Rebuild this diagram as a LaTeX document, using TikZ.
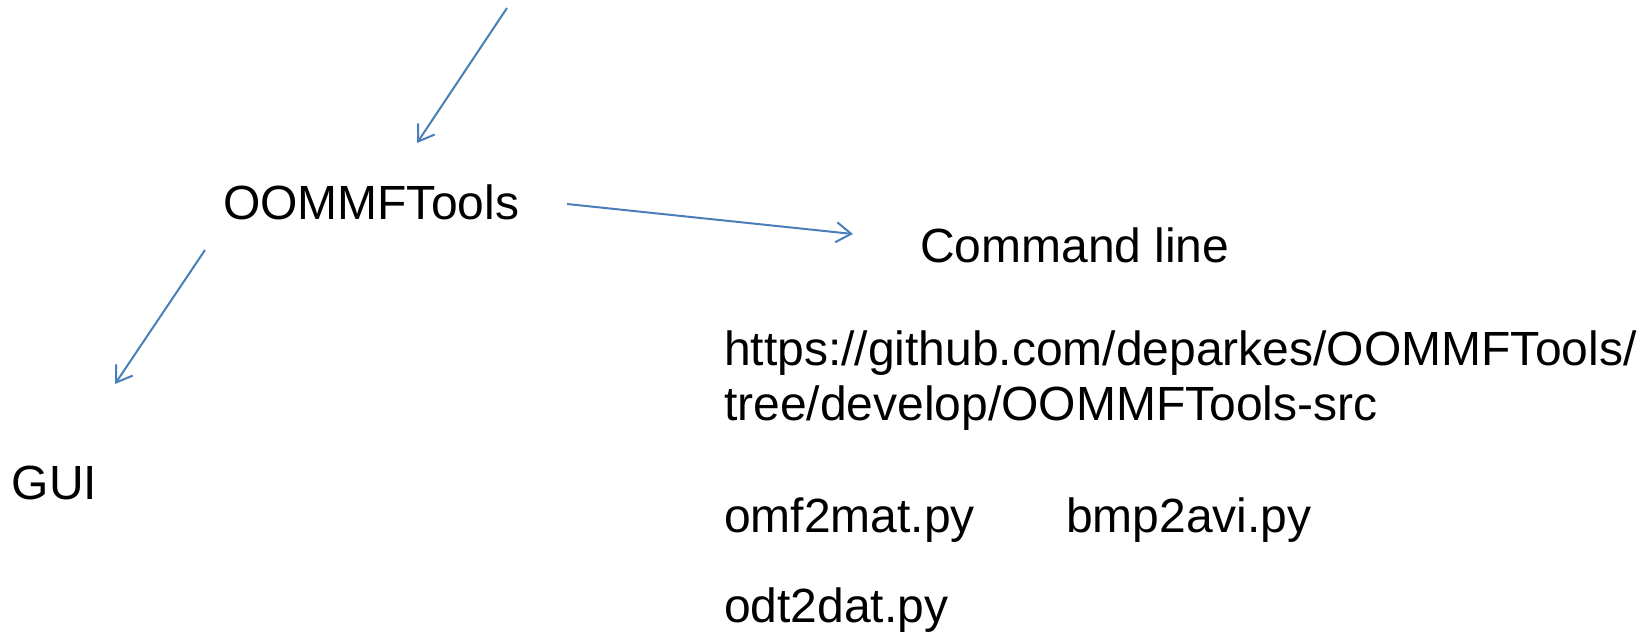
\documentclass[tikz,border=0pt]{standalone}
\usepackage{fontspec}
\setmainfont{Liberation Sans}
\usetikzlibrary{arrows.meta}
\definecolor{arrowblue}{RGB}{74,126,187}
\tikzset{
  lbl/.style={inner sep=0pt, outer sep=0pt, anchor=base west, font=\fontsize{48}{56}\selectfont},
  conn/.style={draw=arrowblue, line width=2pt, -{Straight Barb[length=15pt,width=20pt]}},
}
\begin{document}
\begin{tikzpicture}[x=1pt,y=-1pt]
\useasboundingbox (0,0) rectangle (1652,633);
\node[lbl] (tools) at (223,219) {OOMMFTools};
\node[lbl] (cmd) at (920,262) {Command line};
\node[lbl] (gui) at (12,499) {GUI};
\node[lbl] (url1) at (724,365) {https://github.com/deparkes/OOMMFTools/};
\node[lbl] (url2) at (724,420) {tree/develop/OOMMFTools-src};
\node[lbl] (omf) at (724,532) {omf2mat.py};
\node[lbl] (bmp) at (1066,532) {bmp2avi.py};
\node[lbl] (odt) at (724,622) {odt2dat.py};
\coordinate (src) at (507,8);
\draw[conn] (src) -- ([shift={(194,-76)}]tools.base west);
\draw[conn] ([shift={(48,-15)}]tools.base east) -- ([shift={(-67,-28)}]cmd.base west);
\draw[conn] ([shift={(-18,31)}]tools.base west) -- ([shift={(103,-115)}]gui.base west);
\end{tikzpicture}
\end{document}
